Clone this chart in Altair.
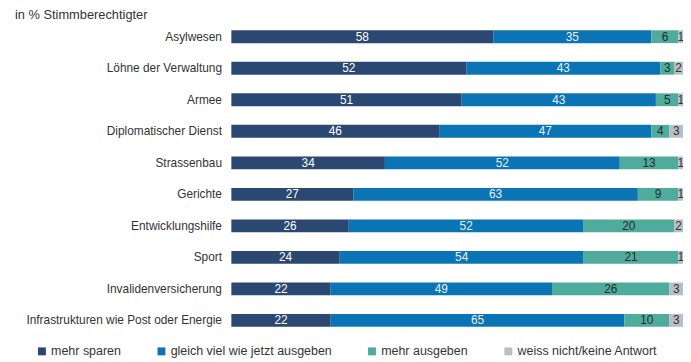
import altair as alt
import pandas as pd

categories = [
    "Asylwesen",
    "Löhne der Verwaltung",
    "Armee",
    "Diplomatischer Dienst",
    "Strassenbau",
    "Gerichte",
    "Entwicklungshilfe",
    "Sport",
    "Invalidenversicherung",
    "Infrastrukturen wie Post oder Energie",
]
series = ["mehr sparen", "gleich viel wie jetzt ausgeben", "mehr ausgeben", "weiss nicht/keine Antwort"]
mehr_sparen = [58, 52, 51, 46, 34, 27, 26, 24, 22, 22]
gleich_viel = [35, 43, 43, 47, 52, 63, 52, 54, 49, 65]
mehr_ausgeben = [6, 3, 5, 4, 13, 9, 20, 21, 26, 10]
weiss_nicht = [1, 2, 1, 3, 1, 1, 2, 1, 3, 3]
colors = ["#2b4872", "#0b74b4", "#4fab9b", "#b8bfc6"]
text_colors = ["#ffffff", "#e8f0f8", "#1f2f2f", "#333333"]

rows = []
for s_i, (name, vals) in enumerate(zip(series, [mehr_sparen, gleich_viel, mehr_ausgeben, weiss_nicht])):
    for c, v in zip(categories, vals):
        rows.append({"cat": c, "series": name, "value": v, "order": s_i, "tcol": text_colors[s_i]})
df = pd.DataFrame(rows)

base = alt.Chart(df).transform_stack(
    stack="value", as_=["start", "end"], groupby=["cat"], sort=[alt.SortField("order")]
).transform_calculate(mid="(datum.start + datum.end) / 2")

y = alt.Y(
    "cat:N",
    sort=categories,
    title=None,
    axis=alt.Axis(domain=False, ticks=False, labelPadding=10, labelLimit=400,
                  labelFontSize=12, labelColor="#333333", labelFont="Liberation Sans"),
)
xscale = alt.Scale(domain=[0, 100], nice=False, zero=True)

bars = base.mark_bar(height=13).encode(
    y=y,
    x=alt.X("start:Q", scale=xscale, axis=None),
    x2="end:Q",
    color=alt.Color(
        "series:N",
        scale=alt.Scale(domain=series, range=colors),
        legend=alt.Legend(
            title=None, orient="none", legendX=-198, legendY=328, direction="horizontal",
            columns=4, symbolType="square", symbolSize=64, symbolStrokeWidth=0,
            labelFontSize=12.6, labelFont="Liberation Sans", labelColor="#333333",
            labelLimit=400, columnPadding=34, labelOffset=3,
        ),
    ),
    order="order:Q",
)

text = base.mark_text(fontSize=12, font="Liberation Sans", baseline="middle").encode(
    y=y,
    x=alt.X("mid:Q", scale=xscale, axis=None),
    text="value:Q",
    color=alt.Color("tcol:N", scale=None),
)

chart = alt.layer(bars, text).properties(
    width=457,
    height=319,
    autosize=alt.AutoSizeParams(type="none"),
    padding={"left": 226, "top": 11, "right": 0, "bottom": 24},
    title=alt.TitleParams(
        "in % Stimmberechtigter", anchor="start", frame="group", dx=-219, dy=1, offset=0,
        fontSize=13, fontWeight="normal", font="Liberation Sans", color="#333333",
    ),
).configure_view(stroke=None)

chart.save("out.html", embed_options={"renderer": "svg", "actions": False})
